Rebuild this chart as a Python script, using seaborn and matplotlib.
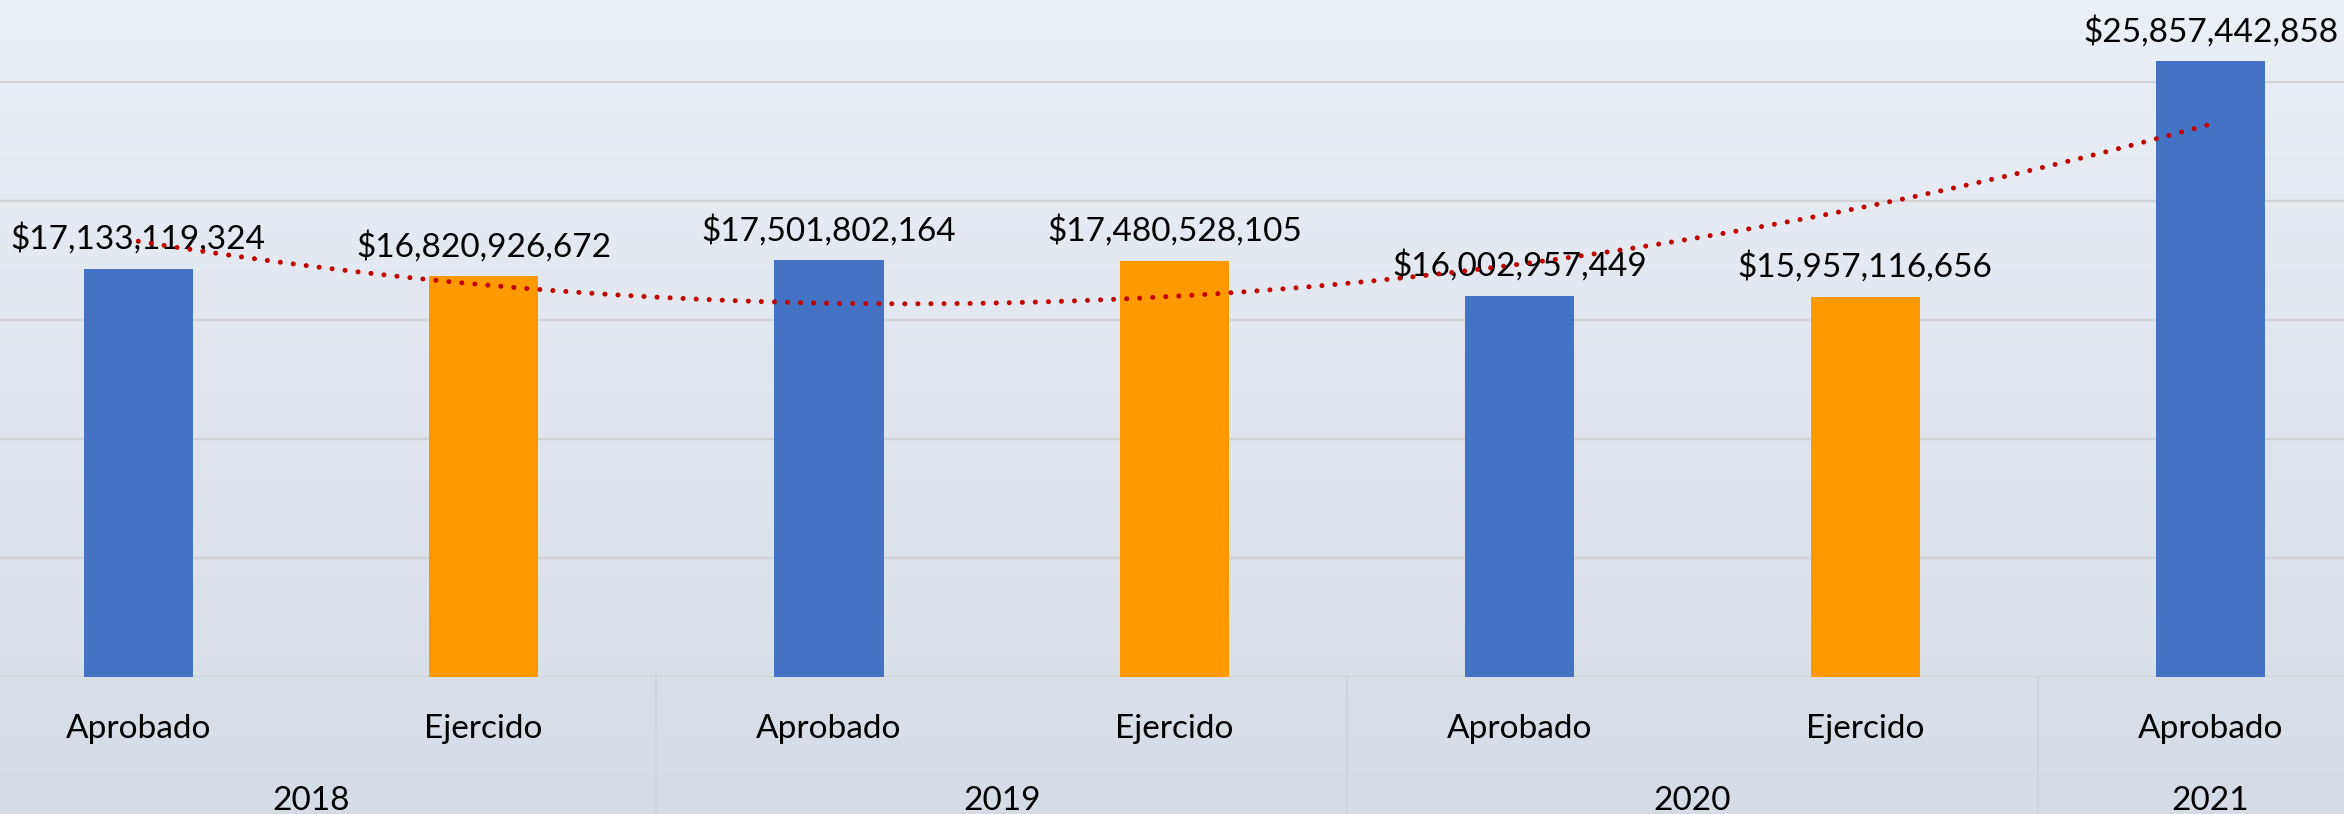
import numpy as np
import pandas as pd
import matplotlib
matplotlib.use('Agg')
import matplotlib.pyplot as plt
from matplotlib import transforms
from matplotlib.colors import LinearSegmentedColormap
import seaborn as sns

# datos
anios = ['2018', '2018', '2019', '2019', '2020', '2020', '2021']
tipos = ['Aprobado', 'Ejercido', 'Aprobado', 'Ejercido', 'Aprobado', 'Ejercido', 'Aprobado']
montos = [17133119324, 16820926672, 17501802164, 17480528105,
          16002957449, 15957116656, 25857442858]
grupos_anio = ['2018', '2019', '2020', '2021']

df = pd.DataFrame({'barra': [t + ' ' + a for t, a in zip(tipos, anios)],
                   'tipo': tipos, 'monto': montos})

plt.rcParams['font.family'] = ['Lato', 'DejaVu Sans']
W, H = 2344, 814
fig = plt.figure(figsize=(W / 100, H / 100), dpi=100)

# fondo degradado
bg = fig.add_axes([0, 0, 1, 1])
cmap = LinearSegmentedColormap.from_list('fondo', ['#D6DCE5', '#EBEFF6'])
bg.imshow(np.linspace(0, 1, 256).reshape(-1, 1)[::-1], cmap=cmap, aspect='auto',
          extent=[0, 1, 0, 1])
bg.axis('off')

ax = fig.add_axes([-34.4 / W, 137 / H, 2417.6 / W, 677 / H])
ax.patch.set_alpha(0)

sns.barplot(data=df, x='barra', y='monto', hue='tipo',
            palette={'Aprobado': '#4472C4', 'Ejercido': '#FF9900'},
            dodge=False, width=0.316, saturation=1, legend=False, ax=ax, zorder=2)

ax.set_xlim(-0.5, 6.5)
ax.set_ylim(0, 28.43e9)
ax.set_yticks(np.arange(0, 30e9, 5e9))
ax.grid(axis='y', color='#D2D2D2', lw=1.6)
ax.grid(axis='x', visible=False)
ax.set_axisbelow(True)
ax.tick_params(left=False, labelleft=False, bottom=False, labelbottom=False)
for s in ax.spines.values():
    s.set_visible(False)
ax.set_xlabel('')
ax.set_ylabel('')

# linea de tendencia polinomica (orden 2)
xs = np.arange(1, len(montos) + 1)
coef = np.polyfit(xs, montos, 2)
xx = np.linspace(1, len(montos), 300)
ax.plot(xx - 1, np.polyval(coef, xx), color='#C00000', lw=3.6,
        linestyle=(0, (0.01, 2.6)), dash_capstyle='round', zorder=5)

# etiquetas de valor
for i, v in enumerate(montos):
    ax.annotate(f'${v:,.0f}', (i, v), xytext=(0, 14.4), textcoords='offset points',
                ha='center', va='baseline', fontsize=24, color='black', zorder=4)

# eje de categorias en dos niveles
trans = transforms.blended_transform_factory(ax.transData, fig.transFigure)
for xb in [-0.5, 1.5, 3.5, 5.5, 6.5]:
    ax.plot([xb, xb], [0, 137 / H], transform=trans, color='#CFD3D9', lw=1.2,
            clip_on=False)
for i, t in enumerate(tipos):
    ax.text(i, 76 / H, t, transform=trans, ha='center', va='baseline', fontsize=24)
centros = [0.5, 2.5, 4.5, 6]
for c, a in zip(centros, grupos_anio):
    ax.text(c, 4 / H, a, transform=trans, ha='center', va='baseline', fontsize=24)

fig.savefig('out.png', dpi=100)
